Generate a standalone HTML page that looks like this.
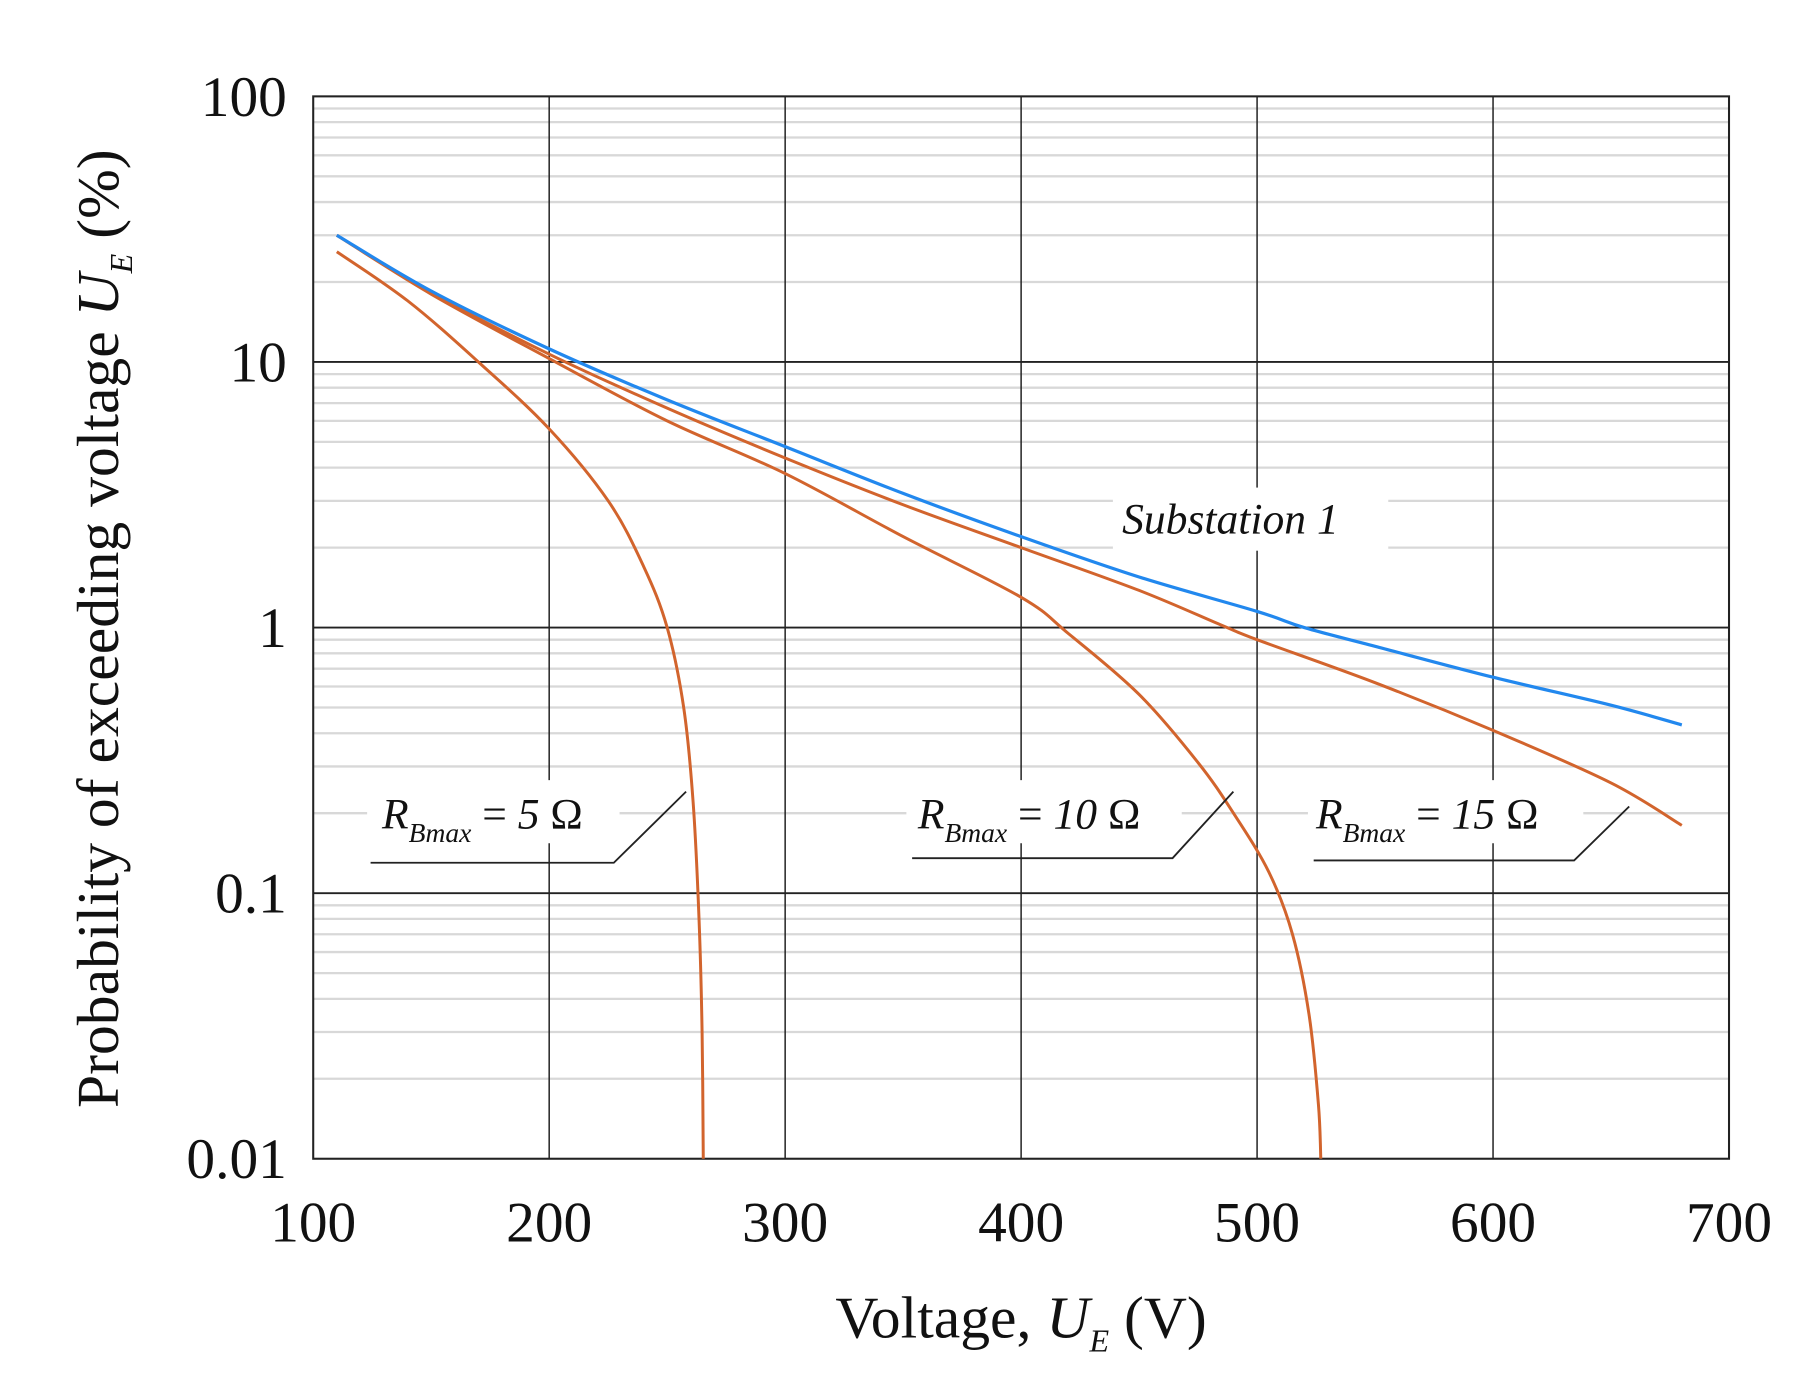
<!DOCTYPE html>
<html><head><meta charset="utf-8"><style>
html,body{margin:0;padding:0;background:#fff}
svg{display:block}
text{font-family:"Liberation Serif",serif;fill:#111}
</style></head><body>
<svg id="s" width="1799" height="1382" viewBox="0 0 1568 1204.6" preserveAspectRatio="none" xmlns="http://www.w3.org/2000/svg">
<g id="grid"></g>
<g id="curves"></g>
<g id="labels"></g>
</svg>
<script>
const NS="http://www.w3.org/2000/svg";
const L=273,R=1507,T=84,B=1010;
const X=v=>L+(v-100)*(R-L)/600;
const Y=p=>T+(2-Math.log10(p))*(B-T)/4;
function el(tag,attrs,parent,txt){const e=document.createElementNS(NS,tag);for(const k in attrs)e.setAttribute(k,attrs[k]);if(txt!==undefined)e.textContent=txt;parent.appendChild(e);return e;}
const g=document.getElementById('grid');
for(let d=-2;d<2;d++)for(let m=2;m<=9;m++){const y=Y(m*Math.pow(10,d));el('line',{x1:L,x2:R,y1:y,y2:y,stroke:'#d8d8d8','stroke-width':2},g);}
for(let v=200;v<=600;v+=100)el('line',{x1:X(v),x2:X(v),y1:T,y2:B,stroke:'#222','stroke-width':1.3},g);
[0.1,1,10].forEach(p=>el('line',{x1:L,x2:R,y1:Y(p),y2:Y(p),stroke:'#222','stroke-width':1.6},g));
el('rect',{x:L,y:T,width:R-L,height:B-T,fill:'none',stroke:'#222','stroke-width':1.8},g);
const yl=[[100,'100'],[10,'10'],[1,'1'],[0.1,'0.1'],[0.01,'0.01']];
yl.forEach(([p,t])=>el('text',{x:250,y:Y(p)+17,'text-anchor':'end','font-size':50},g,t));
for(let v=100;v<=700;v+=100)el('text',{x:X(v),y:1082,'text-anchor':'middle','font-size':50},g,String(v));
const xt=el('text',{x:890,y:1166,'text-anchor':'middle','font-size':52},g);
xt.innerHTML='Voltage, <tspan font-style="italic">U</tspan><tspan font-style="italic" font-size="28" dy="12">E</tspan><tspan dy="-12"> (V)</tspan>';
const yt=el('text',{transform:'translate(103,548) rotate(-90)','text-anchor':'middle','font-size':52},g);
yt.innerHTML='Probability of exceeding voltage <tspan font-style="italic">U</tspan><tspan font-style="italic" font-size="28" dy="12">E</tspan><tspan dy="-12"> (%)</tspan>';
const lb=document.getElementById('labels');
function cr(pts){pts=pts.map(([v,p])=>[X(v),Y(p)]);let d='M'+pts[0][0]+','+pts[0][1];
for(let i=0;i<pts.length-1;i++){const p0=pts[Math.max(0,i-1)],p1=pts[i],p2=pts[i+1],p3=pts[Math.min(pts.length-1,i+2)];
const c1=[p1[0]+(p2[0]-p0[0])/6,p1[1]+(p2[1]-p0[1])/6],c2=[p2[0]-(p3[0]-p1[0])/6,p2[1]-(p3[1]-p1[1])/6];
d+=` C${c1[0]},${c1[1]} ${c2[0]},${c2[1]} ${p2[0]},${p2[1]}`;}return d;}
const cv=document.getElementById('curves');
[[970,425,240,55],[320,680,220,55],[790,680,240,55],[1140,680,240,55]].forEach(([x,y,w,h])=>el('rect',{x,y,width:w,height:h,fill:'#fff'},cv));
const O='#d2642d';
const c5=[[110,26],[140,17],[170,10],[200,5.6],[225,3],[240,1.7],[250,1.0],[257,0.5],[261,0.22],[263.5,0.08],[264.8,0.03],[265.3,0.01]];
const c10=[[110,30],[150,18],[200,10.3],[250,6],[300,3.8],[350,2.2],[400,1.3],[420,0.95],[450,0.56],[475,0.31],[490,0.2],[505,0.12],[515,0.07],[522,0.035],[526,0.016],[527,0.01]];
const c15=[[110,30],[150,18.2],[200,10.7],[250,6.7],[300,4.35],[350,2.9],[400,2.0],[450,1.38],[485,1.02],[500,0.9],[550,0.62],[600,0.41],[650,0.26],[680,0.18]];
const cb=[[110,30],[150,18.5],[200,11.2],[250,7.2],[300,4.8],[350,3.2],[400,2.2],[450,1.55],[500,1.15],[520,1.0],[550,0.85],[600,0.65],[650,0.51],[680,0.43]];
[c5,c10,c15].forEach(c=>el('path',{d:cr(c),fill:'none',stroke:O,'stroke-width':2.6},cv));
el('path',{d:cr(cb),fill:'none',stroke:'#2288ee','stroke-width':2.8},cv);
el('text',{x:978,y:465,'font-size':38,'font-style':'italic'},lb,'Substation 1');
function rl(x,t,ux1,ux2,uy,dx,dy){
 const e=el('text',{x,y:722,'font-size':38},lb);
 e.innerHTML=`<tspan font-style="italic">R</tspan><tspan font-style="italic" font-size="24" dy="12">Bmax</tspan><tspan dy="-12"> = </tspan><tspan font-style="italic">${t}</tspan> Ω`;
 el('polyline',{points:`${ux1},${uy} ${ux2},${uy} ${dx},${dy}`,fill:'none',stroke:'#222','stroke-width':1.6},lb);}
rl(333,'5',323,535,752,598,690);
rl(800,'10',795,1022,748,1075,690);
rl(1147,'15',1145,1372,750,1420,703);
</script>
</body></html>
